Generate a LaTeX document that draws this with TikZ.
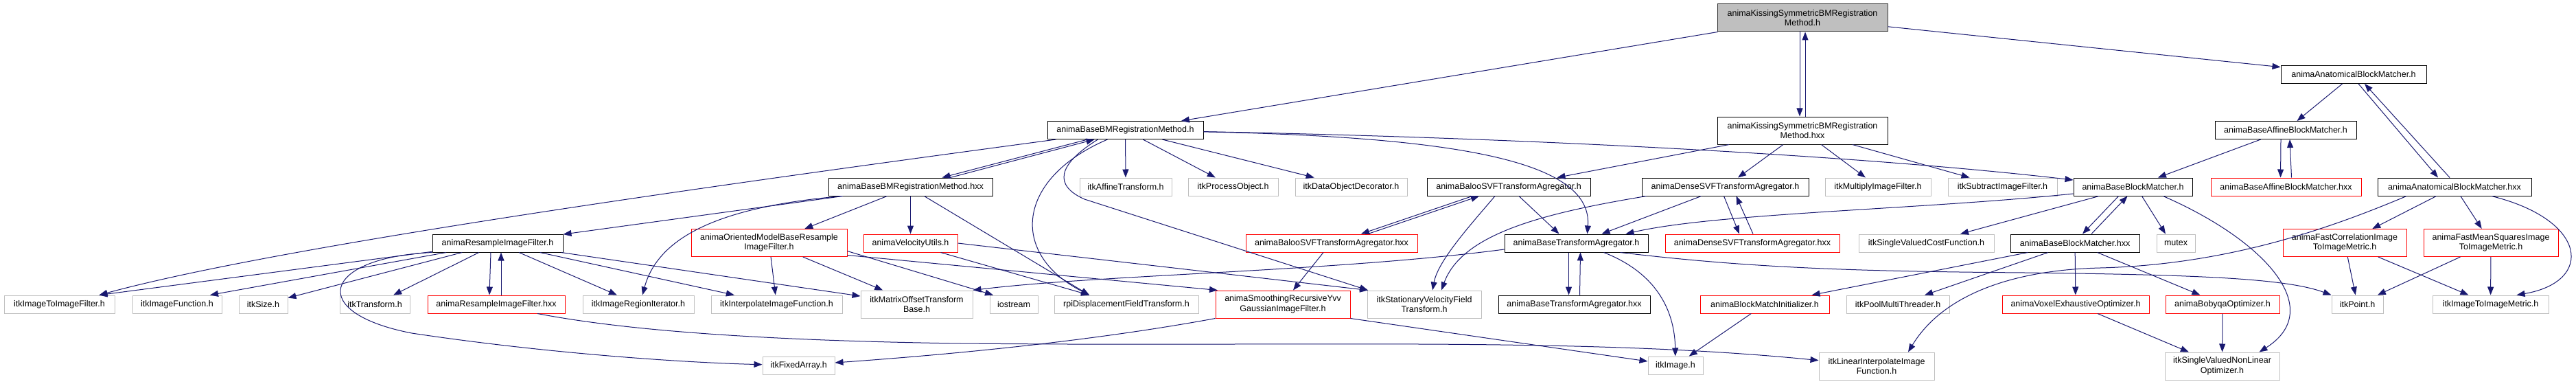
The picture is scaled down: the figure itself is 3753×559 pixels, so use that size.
\documentclass[tikz,border=0pt]{standalone}
\usepackage{fontspec}
\setmainfont{Liberation Sans}
\usepackage{tikz}
\usetikzlibrary{arrows.meta, positioning, calc}
\definecolor{dgEdge}{HTML}{191970}
\definecolor{dgGrey}{HTML}{BFBFBF}
\definecolor{dgRed}{HTML}{FF0000}
\definecolor{dgRoot}{HTML}{BFBFBF}
\tikzset{
  dgnode/.style={
    draw, rectangle, inner sep=0pt, minimum height=26pt, line width=1pt,
    font=\fontsize{12.5}{14.5}\selectfont, align=center, fill=white
  },
  dgtwo/.style={minimum height=40pt},
  dgdoc/.style={dgnode, draw=black},
  dgtrunc/.style={dgnode, draw=dgRed},
  dgext/.style={dgnode, draw=dgGrey},
  dgroot/.style={dgnode, draw=black!80, fill=dgRoot},
  dep/.style={-{Triangle[length=12pt,width=9pt]}, draw=dgEdge, line width=1pt}
}

\begin{document}
\begin{tikzpicture}[x=1pt, y=-1pt]
  \useasboundingbox (0,0) rectangle (3753,559);

  \node[dgroot, dgtwo, minimum width=248pt] (kissH) at (2626,26) {animaKissingSymmetricBMRegistration\\Method.h};
  \node[dgdoc, minimum width=212pt] (anatH) at (3429,108.5) {animaAnatomicalBlockMatcher.h};

  \node[dgdoc, minimum width=227pt] (bbmH) at (1639.5,189.5) {animaBaseBMRegistrationMethod.h};
  \node[dgdoc, dgtwo, minimum width=248pt] (kissHxx) at (2626,190) {animaKissingSymmetricBMRegistration\\Method.hxx};
  \node[dgdoc, minimum width=206pt] (affineH) at (3330,189.5) {animaBaseAffineBlockMatcher.h};

  \node[dgdoc, minimum width=239pt] (bbmHxx) at (1326.5,272) {animaBaseBMRegistrationMethod.hxx};
  \node[dgext, minimum width=134pt] (affTr) at (1640,272) {itkAffineTransform.h};
  \node[dgext, minimum width=131pt] (procObj) at (1796.5,272) {itkProcessObject.h};
  \node[dgext, minimum width=163pt] (dataDec) at (1968.5,272) {itkDataObjectDecorator.h};
  \node[dgdoc, minimum width=238pt] (balooH) at (2198,272) {animaBalooSVFTransformAgregator.h};
  \node[dgdoc, minimum width=243pt] (denseH) at (2513.5,272) {animaDenseSVFTransformAgregator.h};
  \node[dgext, minimum width=154pt] (multFlt) at (2736,272) {itkMultiplyImageFilter.h};
  \node[dgext, minimum width=159pt] (subFlt) at (2917.5,272) {itkSubtractImageFilter.h};
  \node[dgdoc, minimum width=173pt] (bmatchH) at (3107.5,272) {animaBaseBlockMatcher.h};
  \node[dgtrunc, minimum width=219pt] (affineHxx) at (3330.5,272) {animaBaseAffineBlockMatcher.hxx};
  \node[dgdoc, minimum width=224pt] (anatHxx) at (3576,272) {animaAnatomicalBlockMatcher.hxx};

  \node[dgdoc, minimum width=190pt] (resH) at (725,354) {animaResampleImageFilter.h};
  \node[dgtrunc, dgtwo, minimum width=227pt] (orientH) at (1120.5,353.5) {animaOrientedModelBaseResample\\ImageFilter.h};
  \node[dgtrunc, minimum width=137pt] (veloH) at (1326.5,354) {animaVelocityUtils.h};
  \node[dgtrunc, minimum width=250pt] (balooHxx) at (1940,354) {animaBalooSVFTransformAgregator.hxx};
  \node[dgdoc, minimum width=209pt] (btaH) at (2296.5,354) {animaBaseTransformAgregator.h};
  \node[dgtrunc, minimum width=254pt] (denseHxx) at (2553,354) {animaDenseSVFTransformAgregator.hxx};
  \node[dgext, minimum width=197pt] (svCost) at (2806.5,354) {itkSingleValuedCostFunction.h};
  \node[dgdoc, minimum width=188pt] (bmatchHxx) at (3023,354) {animaBaseBlockMatcher.hxx};
  \node[dgext, minimum width=56pt] (mutexH) at (3170,354) {mutex};
  \node[dgtrunc, dgtwo, minimum width=180pt] (fastCorr) at (3416,353.5) {animaFastCorrelationImage\\ToImageMetric.h};
  \node[dgtrunc, dgtwo, minimum width=196pt] (fastMean) at (3629,353.5) {animaFastMeanSquaresImage\\ToImageMetric.h};

  \node[dgext, minimum width=161pt] (imgToImg) at (86.5,443) {itkImageToImageFilter.h};
  \node[dgext, minimum width=130pt] (imgFunc) at (258,443) {itkImageFunction.h};
  \node[dgext, minimum width=71pt] (sizeH) at (383.5,443) {itkSize.h};
  \node[dgext, minimum width=102pt] (transH) at (546,443) {itkTransform.h};
  \node[dgtrunc, minimum width=200pt] (resHxx) at (723,443) {animaResampleImageFilter.hxx};
  \node[dgext, minimum width=162pt] (regIter) at (930,443) {itkImageRegionIterator.h};
  \node[dgext, minimum width=191pt] (interpFn) at (1131.5,443) {itkInterpolateImageFunction.h};
  \node[dgext, dgtwo, minimum width=163pt] (matOff) at (1335.5,443) {itkMatrixOffsetTransform\\Base.h};
  \node[dgext, minimum width=70pt] (iostreamH) at (1477,443) {iostream};
  \node[dgext, minimum width=210pt] (rpiDisp) at (1641,443) {rpiDisplacementFieldTransform.h};
  \node[dgtrunc, dgtwo, minimum width=196pt] (smoothH) at (1869,443) {animaSmoothingRecursiveYvv\\GaussianImageFilter.h};
  \node[dgext, dgtwo, minimum width=166pt] (svfTr) at (2075,443) {itkStationaryVelocityField\\Transform.h};
  \node[dgdoc, minimum width=221pt] (btaHxx) at (2293.5,443) {animaBaseTransformAgregator.hxx};
  \node[dgtrunc, minimum width=188pt] (bmInit) at (2571,443) {animaBlockMatchInitializer.h};
  \node[dgext, minimum width=150pt] (poolThr) at (2765,443) {itkPoolMultiThreader.h};
  \node[dgtrunc, minimum width=214pt] (voxOpt) at (3024,443) {animaVoxelExhaustiveOptimizer.h};
  \node[dgtrunc, minimum width=166pt] (bobyqa) at (3238,443) {animaBobyqaOptimizer.h};
  \node[dgext, minimum width=75pt] (pointH) at (3434.5,443) {itkPoint.h};
  \node[dgext, minimum width=169pt] (imgMetric) at (3628.5,443) {itkImageToImageMetric.h};

  \node[dgext, minimum width=105pt] (fixArr) at (1163.5,532) {itkFixedArray.h};
  \node[dgext, minimum width=80pt] (imageH) at (2441,532) {itkImage.h};
  \node[dgext, dgtwo, minimum width=168pt] (linInterp) at (2734,533) {itkLinearInterpolateImage\\Function.h};
  \node[dgext, dgtwo, minimum width=167pt] (svnlOpt) at (3237.5,533) {itkSingleValuedNonLinear\\Optimizer.h};

  \draw[dep] (kissH) -- (bbmH);
  \draw[dep] ([xshift=-4]kissH.south) -- ([xshift=-4]kissHxx.north);
  \draw[dep] ([xshift=4]kissHxx.north) -- ([xshift=4]kissH.south);
  \draw[dep] (kissH) -- (anatH);

  \draw[dep] (kissHxx) -- (balooH);
  \draw[dep] (kissHxx) -- (denseH);
  \draw[dep] (kissHxx) -- (multFlt);
  \draw[dep] (kissHxx) -- (subFlt);

  \draw[dep] ([xshift=-55]bbmH.south) -- ([xshift=46]bbmHxx.north);
  \draw[dep] ([xshift=58]bbmHxx.north) -- ([xshift=-45]bbmH.south);
  \draw[dep] (bbmH) .. controls (1000,275) and (400,360) .. ([xshift=58]imgToImg.north);
  \draw[dep] (bbmH) -- (affTr);
  \draw[dep] (bbmH) -- (procObj);
  \draw[dep] (bbmH) -- (dataDec);
  \draw[dep] (bbmH) .. controls (2200,200) and (2700,225) .. (bmatchH);
  \draw[dep] (bbmH) .. controls (2150,200) and (2320,240) .. ([xshift=16]btaH.north);
  \draw[dep] ([xshift=-26]bbmH.south) .. controls (1480,260) and (1470,370) .. ([xshift=-54]rpiDisp.north);
  \draw[dep] ([xshift=-40]bbmH.south) .. controls (1540,240) and (1535,270) .. (1580,290) -- ([xshift=-82]svfTr.north);

  \draw[dep] (bbmHxx) -- (resH);
  \draw[dep] (bbmHxx) -- (orientH);
  \draw[dep] (bbmHxx) -- (veloH);
  \draw[dep] ([xshift=-100]bbmHxx.south) .. controls (1060,300) and (960,340) .. ([xshift=6]regIter.north);
  \draw[dep] ([xshift=20]bbmHxx.south) -- ([xshift=-54]rpiDisp.north);

  \draw[dep] (resH) -- ([xshift=58]imgToImg.north);
  \draw[dep] (resH) -- ([xshift=48]imgFunc.north);
  \draw[dep] (resH) -- (sizeH);
  \draw[dep] (resH) -- (transH);
  \draw[dep] ([xshift=-10]resH.south) -- ([xshift=-10]resHxx.north);
  \draw[dep] ([xshift=7]resHxx.north) -- ([xshift=5]resH.south);
  \draw[dep] (resH) -- (regIter);
  \draw[dep] (resH) -- (interpFn);
  \draw[dep] (resH) -- (matOff);
  \draw[dep] (resH.south west) .. controls (470,375) and (445,455) .. (600,485) .. controls (800,515) and (1000,528) .. (fixArr);
  \draw[dep] ([xshift=60]resHxx.south) .. controls (880,475) and (1050,495) .. (1400,500) .. controls (1900,505) and (2300,490) .. (linInterp);

  \draw[dep] (orientH) -- (interpFn);
  \draw[dep] (orientH) -- (matOff);
  \draw[dep] ([yshift=-12]orientH.east) -- ([xshift=-30]iostreamH.north);
  \draw[dep] ([yshift=-18]orientH.east) -- ([xshift=-95]smoothH.north);

  \draw[dep] ([xshift=44]veloH.south) -- ([xshift=-54]rpiDisp.north);
  \draw[dep] (veloH.east) -- ([xshift=-82]svfTr.north);

  \draw[dep] ([xshift=-53]balooH.south) -- ([xshift=43]balooHxx.north);
  \draw[dep] ([xshift=53]balooHxx.north) -- ([xshift=-43]balooH.south);
  \draw[dep] ([xshift=15]balooH.south) -- ([xshift=-25]btaH.north);
  \draw[dep] ([xshift=-20]balooH.south) .. controls (2140,330) and (2095,380) .. ([xshift=12]svfTr.north);
  \draw[dep] ([xshift=-12]balooHxx.south) -- ([xshift=15]smoothH.north);

  \draw[dep] ([xshift=-2]denseH.south) -- ([xshift=-19]denseHxx.north);
  \draw[dep] ([xshift=1]denseHxx.north) -- ([xshift=16]denseH.south);
  \draw[dep] ([xshift=-35]denseH.south) -- ([xshift=37]btaH.north);
  \draw[dep] ([xshift=-115]denseH.south) .. controls (2250,310) and (2130,340) .. ([xshift=25]svfTr.north);

  \draw[dep] ([xshift=-11]btaH.south) -- ([xshift=-8]btaHxx.north);
  \draw[dep] ([xshift=8]btaHxx.north) -- ([xshift=6]btaH.south);
  \draw[dep] ([yshift=-9]btaH.west) .. controls (1950,395) and (1600,400) .. (matOff.north east);
  \draw[dep] ([xshift=40]btaH.south) .. controls (2420,400) and (2440,460) .. (imageH);
  \draw[dep] ([xshift=64]btaH.south) .. controls (2550,390) and (2700,395) .. (2950,397) .. controls (3200,400) and (3330,405) .. (pointH.north west);

  \draw[dep] (smoothH.south west) .. controls (1600,495) and (1400,515) .. ([yshift=4]fixArr.east);
  \draw[dep] (smoothH.south east) -- ([yshift=6]imageH.west);

  \draw[dep] (anatH) -- (affineH);
  \draw[dep] ([xshift=7]anatH.south) -- ([xshift=-24]anatHxx.north);
  \draw[dep] ([xshift=-7]anatHxx.north) -- ([xshift=16]anatH.south);

  \draw[dep] (affineH) -- (bmatchH);
  \draw[dep] ([xshift=-7]affineH.south) -- ([xshift=-8]affineHxx.north);
  \draw[dep] ([xshift=8]affineHxx.north) -- ([xshift=6]affineH.south);

  \draw[dep] (bmatchH) -- (svCost);
  \draw[dep] ([xshift=-21]bmatchH.south) -- ([xshift=11]bmatchHxx.north);
  \draw[dep] ([xshift=24]bmatchHxx.north) -- ([xshift=-8]bmatchH.south);
  \draw[dep] ([xshift=13]bmatchH.south) -- ([xshift=-15]mutexH.north);
  \draw[dep] ([xshift=44]bmatchH.south) .. controls (3300,350) and (3390,450) .. ([xshift=54]svnlOpt.north);
  \draw[dep] ([yshift=-10]bmatchH.west) .. controls (2800,305) and (2500,310) .. ([xshift=72]btaH.north);

  \draw[dep] (bmatchHxx) -- (bmInit);
  \draw[dep] (bmatchHxx) -- (poolThr);
  \draw[dep] (bmatchHxx) -- (voxOpt);
  \draw[dep] (bmatchHxx) -- (bobyqa);
  \draw[dep] (voxOpt) -- (svnlOpt);
  \draw[dep] (bobyqa) -- (svnlOpt);
  \draw[dep] (bmInit) -- (imageH);

  \draw[dep] ([xshift=-70]anatHxx.south) .. controls (3400,330) and (3250,385) .. (3060,390) .. controls (2930,393) and (2830,430) .. ([xshift=46]linInterp.north);
  \draw[dep] (anatHxx) -- (fastCorr);
  \draw[dep] (anatHxx) -- (fastMean);
  \draw[dep] ([xshift=54]anatHxx.south) .. controls (3770,320) and (3780,410) .. ([xshift=38]imgMetric.north);

  \draw[dep] (fastCorr) -- (pointH);
  \draw[dep] (fastCorr) -- (imgMetric);
  \draw[dep] (fastMean) -- (pointH);
  \draw[dep] (fastMean) -- (imgMetric);
\end{tikzpicture}
\end{document}
